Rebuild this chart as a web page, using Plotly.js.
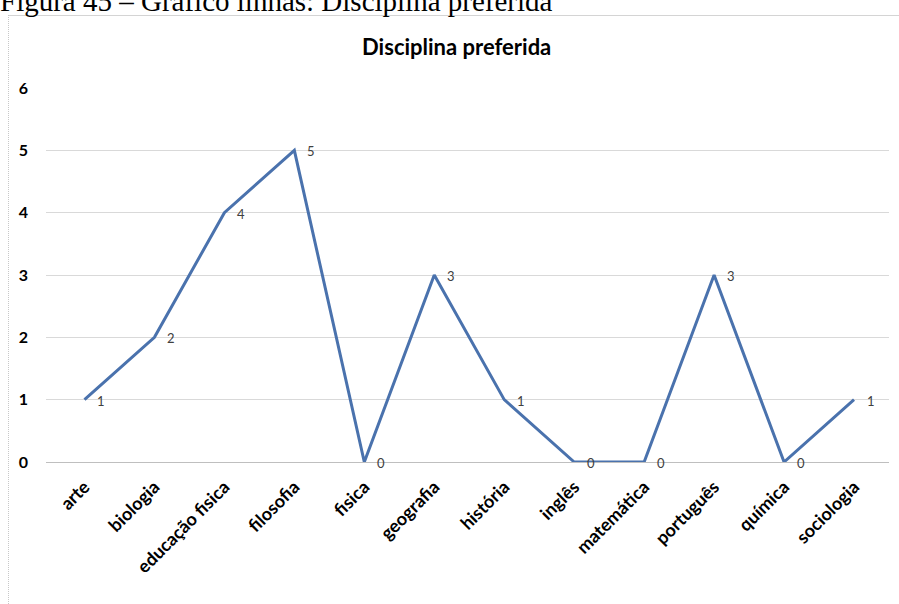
<!DOCTYPE html>
<html>
<head>
<meta charset="utf-8">
<script src="https://cdn.plot.ly/plotly-3.0.1.min.js"></script>
<style>
  html, body { margin: 0; padding: 0; background: #fff; overflow: hidden; }
  #wrap { position: relative; width: 899px; height: 604px; }
  #caption { position: absolute; left: 0; top: -15px; font-family: "Liberation Serif", "Times New Roman", serif; font-size: 29px; color: #000; white-space: nowrap; z-index: 2; }
  #ruler { position: absolute; left: 8px; top: 15px; width: 891px; height: 0; border-top: 1px solid #d4d4d4; z-index: 1; }
  #leftline { position: absolute; left: 8px; top: 15px; width: 0; height: 589px; border-left: 1px dotted #c8c8c8; z-index: 1; }
  #chart { position: absolute; left: 0; top: 0; width: 899px; height: 604px; }
</style>
</head>
<body>
<div id="wrap">
  <div id="chart"></div>
  <div id="ruler"></div>
  <div id="leftline"></div>
  <div id="caption">Figura 45 – Gráfico linhas: Disciplina preferida</div>
</div>
<script>
const categories = ["arte", "biologia", "educação fisica", "filosofia", "fisica", "geografia", "história", "inglês", "matemática", "português", "química", "sociologia"];
const values = [1, 2, 4, 5, 0, 3, 1, 0, 0, 3, 0, 1];
const yTicks = [0, 1, 2, 3, 4, 5, 6];

const trace = {
  x: categories,
  y: values,
  type: "scatter",
  mode: "lines",
  line: { color: "#4a72ad", width: 3 },
  hoverinfo: "skip"
};

const annotations = categories.map((c, i) => ({
  x: c, y: values[i], xref: "x", yref: "y",
  text: String(values[i]), showarrow: false,
  xanchor: "left", yanchor: "middle",
  xshift: 11, yshift: -1,
  font: { family: "Lato, 'Open Sans', sans-serif", size: 13, color: "#404040" }
}));

const layout = {
  width: 899, height: 604,
  margin: { l: 46, r: 10, t: 88, b: 142 },
  paper_bgcolor: "rgba(0,0,0,0)",
  plot_bgcolor: "#fff",
  showlegend: false,
  title: {
    text: "<b>Disciplina preferida</b>",
    font: { family: "Lato, 'Open Sans', sans-serif", size: 22, color: "#000" },
    x: 0.508, xanchor: "center", y: 0.922, yanchor: "middle"
  },
  xaxis: {
    type: "category",
    range: [-0.55, 11.5],
    tickangle: -45,
    tickfont: { family: "Lato, 'Open Sans', sans-serif", size: 18, color: "#000", weight: "bold" },
    showgrid: false,
    showline: false,
    zeroline: false,
    ticks: "",
    ticklabelstandoff: 10
  },
  yaxis: {
    range: [0, 6],
    tickvals: yTicks,
    ticktext: yTicks.map(String),
    tickfont: { family: "Lato, 'Open Sans', sans-serif", size: 16, color: "#000", weight: "bold" },
    showgrid: true,
    gridcolor: "#d9d9d9",
    gridwidth: 1,
    zeroline: true,
    zerolinecolor: "#bfbfbf",
    zerolinewidth: 1,
    showline: false,
    ticks: "",
    ticklabelstandoff: 17
  },
  annotations: annotations
};

Plotly.newPlot("chart", [trace], layout, { displayModeBar: false, staticPlot: true });
</script>
</body>
</html>
